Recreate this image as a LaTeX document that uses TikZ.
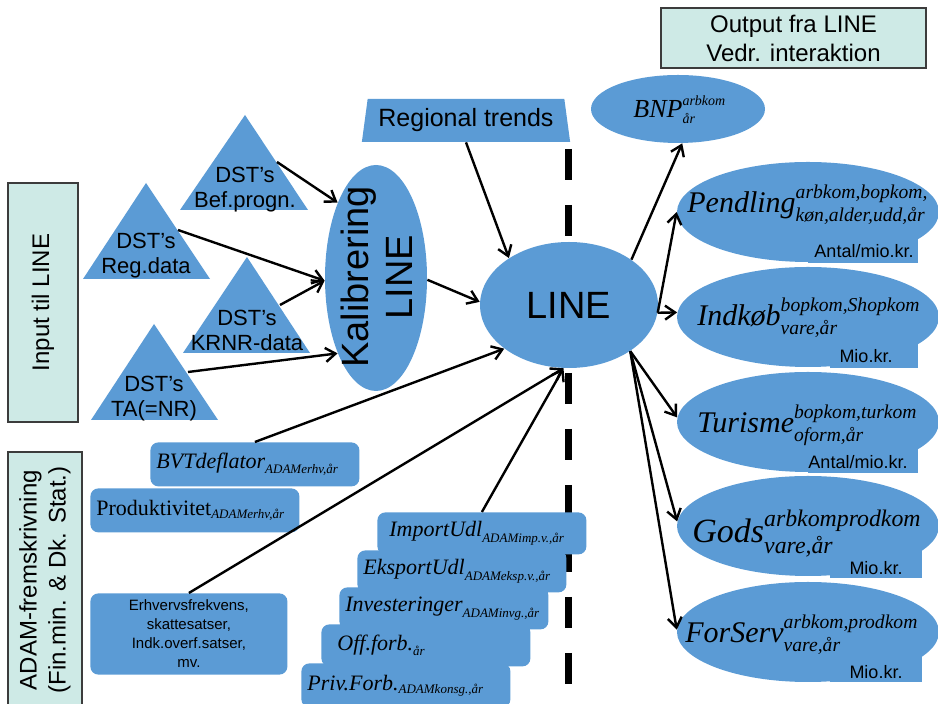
\documentclass[tikz,border=0pt]{standalone}
\usepackage{amsmath}
\usepackage{fontspec}
\setmainfont{Liberation Serif}
\setsansfont{Liberation Sans}
\usetikzlibrary{shapes.geometric,arrows.meta}
\DeclareMathSizes{11}{11}{6.5}{5}
\DeclareMathSizes{13}{13}{7}{5}
\DeclareMathSizes{15}{15}{9.8}{7}

\definecolor{lineblue}{RGB}{91,155,213}
\definecolor{notefill}{RGB}{206,234,230}
\definecolor{notedraw}{RGB}{60,60,60}

\tikzset{
  blue shape/.style={fill=lineblue, draw=none},
  note/.style={rectangle, fill=notefill, draw=notedraw, line width=1pt, align=center,
    inner sep=0pt, font=\sffamily\fontsize{12}{14.5}\selectfont},
  dst/.style={font=\sffamily\fontsize{11}{12.5}\selectfont, align=center, inner sep=0pt},
  outell/.style={ellipse, blue shape, minimum width=131pt, minimum height=50pt},
  outlabel/.style={anchor=base west, inner sep=0pt, font=\fontsize{15}{18}\selectfont},
  unit/.style={font=\sffamily\fontsize{9}{10}\selectfont, inner sep=0pt},
  inbox/.style={rectangle, rounded corners=4pt, blue shape, anchor=north west,
    minimum width=104.5pt, minimum height=21pt, text width=98.5pt, inner xsep=3pt,
    align=left, font=\fontsize{11}{13}\selectfont},
  arr/.style={-{Straight Barb[length=5pt,width=7pt]}, line width=1.2pt},
}

\begin{document}
\begin{tikzpicture}[x=0.5pt, y=-0.5pt]
	\useasboundingbox (0,0) rectangle (938,704);

	% dashed border between input and output
	\coordinate (dashtop) at (568,149);
	\coordinate (dashbot) at (568,720);
	\draw[line width=3.5pt, dash pattern=on 15.5pt off 12.5pt] (dashtop) -- (dashbot);

	% side notes
	\node[note, minimum width=132.5pt, minimum height=30pt] (outputbox) at (793.5,38)
		{Output fra LINE\\Vedr. interaktion};
	\node[note, rotate=90, minimum width=119.5pt, minimum height=35pt] (inputbox) at (43,302.5)
		{Input til LINE};
	\node[note, rotate=90, minimum width=128pt, minimum height=37pt] (adambox) at (45,580)
		{ADAM-fremskrivning\\(Fin.min. \& Dk. Stat.)};

	% DST triangles
	\fill[lineblue] (245,115) -- (308,210) -- (180,210) -- cycle;
	\node[dst] (bef) at (245,190) {DST’s\\Bef.progn.};
	\fill[lineblue] (146,183) -- (210,279) -- (83,279) -- cycle;
	\node[dst] (regdata) at (146,256) {DST’s\\Reg.data};
	\fill[lineblue] (247,257) -- (310,353) -- (183,353) -- cycle;
	\node[dst] (krnr) at (247,330) {DST’s\\KRNR-data};
	\fill[lineblue] (154,324) -- (218,420) -- (91,420) -- cycle;
	\node[dst] (ta) at (154,399) {DST’s\\TA(=NR)};
	\coordinate (bef-out) at (277,162);
	\coordinate (regdata-out) at (178,230);
	\coordinate (krnr-out) at (280,305);
	\coordinate (ta-out) at (188,372);

	% calibration and model
	\node[ellipse, blue shape, minimum width=51pt, minimum height=113pt] (kal) at (376,278) {};
	\node[rotate=90, align=center, inner sep=0pt, font=\sffamily\fontsize{19}{22}\selectfont]
		(kaltxt) at (377,277) {Kalibrering\\LINE};
	\node[trapezium, trapezium stretches=true, trapezium left angle=77.5, trapezium right angle=77.5,
		minimum width=105pt, minimum height=21.5pt, inner sep=0pt, blue shape,
		font=\sffamily\fontsize{12.5}{14}\selectfont] (trends) at (466,120.5) {Regional trends};
	\node[ellipse, blue shape, minimum width=89pt, minimum height=63pt,
		font=\sffamily\fontsize{19}{22}\selectfont] (line) at (569,305) {LINE};

	% output
	\node[ellipse, blue shape, minimum width=87pt, minimum height=34pt] (bnp) at (678,109) {};
	\node[outlabel, font=\fontsize{13}{15}\selectfont] (bnptxt) at (633,118)
		{$\textit{BNP}^{\textit{arbkom}\vphantom{g}}_{\textit{år}}$};

	\fill[lineblue] (808,234) rectangle (918,263);
	\node[outell] (pend) at (808,212) {};
	\node[outlabel] (pendtxt) at (687,213)
		{$\textit{Pendling}^{\textit{arbkom,bopkom,}}_{\textit{køn,alder,udd,år}}$};
	\node[unit] (pendunit) at (864,251) {Antal/mio.kr.};

	\fill[lineblue] (830,339) rectangle (918,368);
	\node[outell] (ind) at (808,317) {};
	\node[outlabel] (indtxt) at (697,326)
		{$\textit{Indkøb}^{\textit{bopkom,Shopkom}}_{\textit{vare,år}}$};
	\node[unit] (indunit) at (866,356) {Mio.kr.};

	\fill[lineblue] (808,444) rectangle (918,473);
	\node[outell] (tur) at (808,422) {};
	\node[outlabel] (turtxt) at (697,433)
		{$\textit{Turisme}^{\textit{bopkom,turkom}}_{\textit{oform,år}}$};
	\node[unit] (turunit) at (858,462) {Antal/mio.kr.};

	\fill[lineblue] (830,548) rectangle (922,578);
	\node[outell] (gods) at (808,526) {};
	\node[outlabel, font=\fontsize{17}{20}\selectfont] (godstxt) at (692,543)
		{$\textit{Gods}^{\textit{arbkomprodkom}}_{\textit{vare,år}}$};
	\node[unit] (godsunit) at (876,568) {Mio.kr.};

	\fill[lineblue] (830,654) rectangle (922,682);
	\node[outell] (forserv) at (808,632) {};
	\node[outlabel] (forservtxt) at (685,643)
		{$\textit{ForServ}^{\textit{arbkom,prodkom}}_{\textit{vare,år}}$};
	\node[unit] (forservunit) at (876,672) {Mio.kr.};

	% ADAM input
	\node[inbox, minimum height=22pt] (bvt) at (150,442) {$\textit{BVTdeflator}_{\textit{ADAMerhv,år}}$};
	\node[inbox, minimum height=22pt] (prod) at (90,488) {$\textrm{Produktivitet}_{\textit{ADAMerhv,år}}$};
	\node[inbox, minimum width=98.5pt, text width=92.5pt, minimum height=38pt, align=center,
		font=\sffamily\fontsize{7.5}{9.5}\selectfont] (erhv) at (90,593)
		{Erhvervsfrekvens,\\skattesatser,\\Indk.overf.satser,\\mv.};
	\node[inbox] (imp) at (377,512) {\hspace{3pt}$\textit{ImportUdl}_{\textit{ADAMimp.v.,år}}$};
	\node[inbox] (eks) at (357,550) {$\textit{EksportUdl}_{\textit{ADAMeksp.v.,år}}$};
	\node[inbox] (inv) at (339,587) {$\textit{Investeringer}_{\textit{ADAMinvg.,år}}$};
	\node[inbox] (off) at (321,624) {\hspace{5pt}$\textit{Off.forb.}_{\textit{år}}$};
	\node[inbox, minimum height=22pt] (priv) at (301,663) {$\textit{Priv.Forb.}_{\textit{ADAMkonsg.,år}}$};

	% connectors
	\draw[arr] (bef-out) -- (kal.117);
	\draw[arr] (regdata-out) -- (kal.183);
	\draw[arr] (krnr-out) -- (kal.183);
	\draw[arr] (ta-out) -- (kal.243);
	\draw[arr] (kal.358) -- (line.178);
	\draw[arr] (trends.south) -- (line.142);
	\draw[arr] (bvt.north) -- (line.214);
	\draw[arr] (erhv.north) -- (line.265);
	\draw[arr] (imp.north) -- (line.265);
	\draw[arr] (line.36) -- (bnp.277);
	\draw[arr] (line.355) -- (pend.180);
	\draw[arr] (line.355) -- (ind.178);
	\draw[arr] (line.323) -- (tur.178);
	\draw[arr] (line.323) -- (gods.178);
	\draw[arr] (line.323) -- (forserv.179);
\end{tikzpicture}
\end{document}
